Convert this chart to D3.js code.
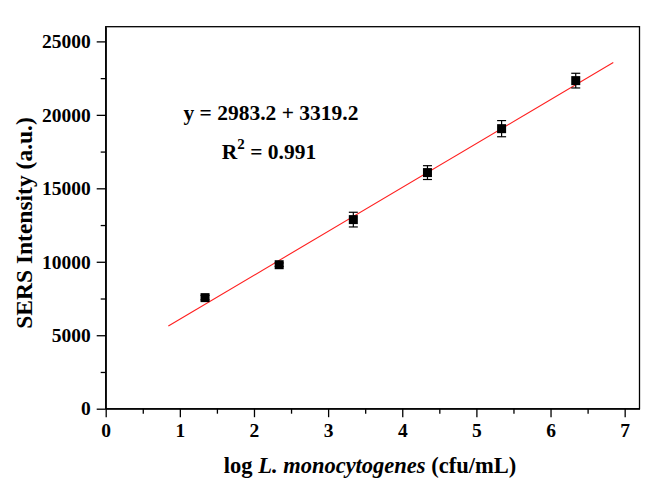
<!DOCTYPE html>
<html>
<head>
<meta charset="utf-8">
<script src="https://cdn.jsdelivr.net/npm/d3@7"></script>
<style>
  body { margin: 0; background: #fff; }
  .axis text { font-family: "Liberation Serif", "Times New Roman", serif; font-weight: bold; font-size: 19.5px; fill: #000; }
  .axis path, .axis line { stroke: #000; stroke-width: 1.3px; }
  .minor path { display: none; }
</style>
</head>
<body>
<div id="chart"></div>
<script>
// data
var logConc = [1.34, 2.34, 3.34, 4.34, 5.34, 6.34];
var intensity = [7560, 9800, 12870, 16070, 19060, 22330];
var errors = [150, 120, 500, 470, 550, 500];
// fitted line as drawn (label text kept as printed)
var fitSlope = 2990;
var fitIntercept = 3100;
var fitRange = [0.845, 6.846];
var eqLabel = "y = 2983.2 + 3319.2";
var r2Label = "0.991";
var xTicks = [0, 1, 2, 3, 4, 5, 6, 7];
var yTicks = [0, 5000, 10000, 15000, 20000, 25000];

makePlot();

function makePlot() {
    var svgWidth = 656;
    var svgHeight = 502;
    var margin = { top: 26.7, right: 16.5, bottom: 93.3, left: 105.7 };
    var chart_width = svgWidth - margin.left - margin.right;
    var chart_height = svgHeight - margin.top - margin.bottom;

    var svg = d3.select("#chart")
        .append("svg")
        .attr("width", svgWidth)
        .attr("height", svgHeight);
    var chartGroup = svg.append("g")
        .attr("transform", `translate(${margin.left}, ${margin.top})`);

    var xScale = d3.scaleLinear().domain([0, 7.2]).range([0, chart_width]);
    var yScale = d3.scaleLinear().domain([0, 26000]).range([chart_height, 0]);

    // minor ticks
    chartGroup.append("g")
        .attr("class", "axis minor")
        .attr("transform", `translate(0, ${chart_height})`)
        .call(d3.axisBottom(xScale).tickValues(d3.range(0.5, 7.2, 1)).tickSize(5).tickFormat(""));
    chartGroup.append("g")
        .attr("class", "axis minor")
        .call(d3.axisLeft(yScale).tickValues(d3.range(2500, 26000, 5000)).tickSize(5).tickFormat(""));

    // major axes
    chartGroup.append("g")
        .attr("class", "axis")
        .attr("transform", `translate(0, ${chart_height})`)
        .call(d3.axisBottom(xScale).tickValues(xTicks).tickSize(8.5).tickPadding(6).tickSizeOuter(0).tickFormat(d3.format("d")));
    chartGroup.append("g")
        .attr("class", "axis")
        .call(d3.axisLeft(yScale).tickValues(yTicks).tickSize(9).tickPadding(6).tickSizeOuter(0).tickFormat(d3.format("d")));

    // frame
    chartGroup.append("rect")
        .attr("width", chart_width)
        .attr("height", chart_height)
        .attr("fill", "none")
        .attr("stroke", "#000")
        .attr("stroke-width", 1.3);

    // fit line
    var line_gen = d3.line()
        .x(d => xScale(d))
        .y(d => yScale(fitIntercept + fitSlope * d));
    chartGroup.append("path")
        .attr("d", line_gen(fitRange))
        .attr("fill", "none")
        .attr("stroke", "#ff2020")
        .attr("stroke-width", 1.1);

    var pts = logConc.map((x, i) => ({ x: x, y: intensity[i], e: errors[i] }));

    // error bars
    var eb = chartGroup.selectAll(".eb").data(pts).enter().append("g")
        .attr("stroke", "#000").attr("stroke-width", 1.2);
    eb.append("line")
        .attr("x1", d => xScale(d.x)).attr("x2", d => xScale(d.x))
        .attr("y1", d => yScale(d.y - d.e)).attr("y2", d => yScale(d.y + d.e));
    eb.append("line")
        .attr("x1", d => xScale(d.x) - 4.5).attr("x2", d => xScale(d.x) + 4.5)
        .attr("y1", d => yScale(d.y + d.e)).attr("y2", d => yScale(d.y + d.e));
    eb.append("line")
        .attr("x1", d => xScale(d.x) - 4.5).attr("x2", d => xScale(d.x) + 4.5)
        .attr("y1", d => yScale(d.y - d.e)).attr("y2", d => yScale(d.y - d.e));

    // points
    chartGroup.selectAll(".pt").data(pts).enter().append("rect")
        .attr("x", d => xScale(d.x) - 4.5)
        .attr("y", d => yScale(d.y) - 4.5)
        .attr("width", 9)
        .attr("height", 9)
        .attr("fill", "#000");

    // equation text
    var eq = svg.append("g")
        .attr("font-family", "Liberation Serif, Times New Roman, serif")
        .attr("font-weight", "bold")
        .attr("font-size", "21.5px")
        .attr("text-anchor", "middle");
    eq.append("text").attr("x", 271).attr("y", 120).text(eqLabel);
    var r2 = eq.append("text").attr("x", 269).attr("y", 159);
    r2.append("tspan").text("R");
    r2.append("tspan").attr("dy", -10).attr("font-size", "15px").text("2");
    r2.append("tspan").attr("dy", 10).text(" = " + r2Label);

    // axis titles
    var xt = svg.append("text")
        .attr("x", 370)
        .attr("y", 473)
        .attr("text-anchor", "middle")
        .attr("font-family", "Liberation Serif, Times New Roman, serif")
        .attr("font-weight", "bold")
        .attr("font-size", "22.5px");
    xt.append("tspan").text("log ");
    xt.append("tspan").attr("font-style", "italic").text("L. monocytogenes");
    xt.append("tspan").text(" (cfu/mL)");

    svg.append("text")
        .attr("transform", "translate(32, 223) rotate(-90)")
        .attr("text-anchor", "middle")
        .attr("font-family", "Liberation Serif, Times New Roman, serif")
        .attr("font-weight", "bold")
        .attr("font-size", "23.5px")
        .text("SERS Intensity (a.u.)");
}
</script>
</body>
</html>
